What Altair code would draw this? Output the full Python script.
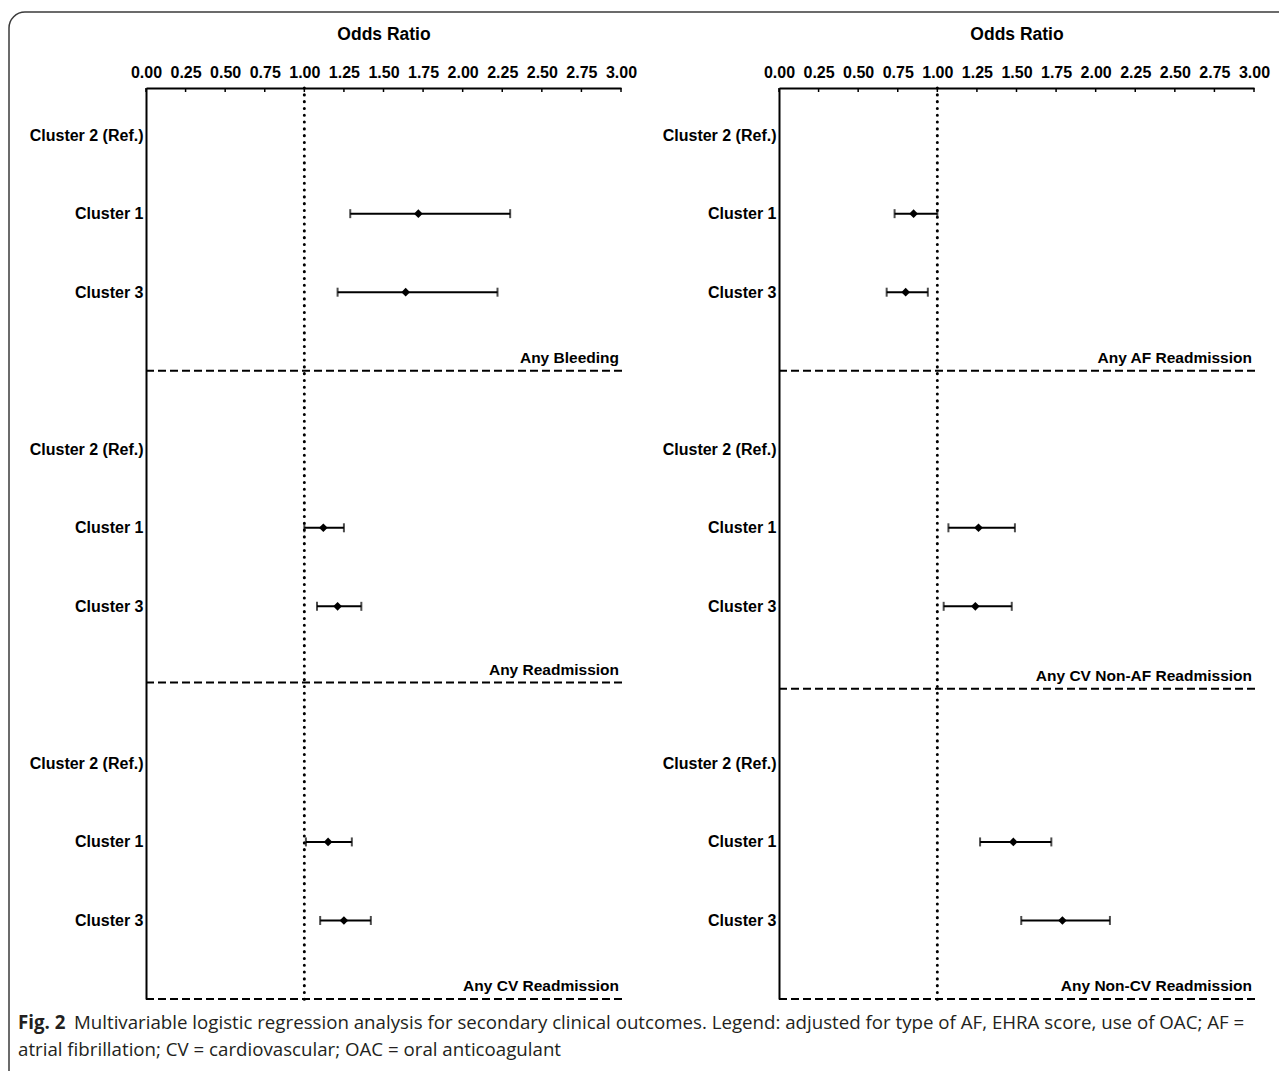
import altair as alt
import pandas as pd
import math

# ---------------- data ----------------
row_labels = ["Cluster 2 (Ref.)", "Cluster 1", "Cluster 3"]
clusters = ["Cluster 1", "Cluster 3"]

outcomes_left = ["Any Bleeding", "Any Readmission", "Any CV Readmission"]
or_left = [[1.72, 1.64], [1.12, 1.21], [1.15, 1.25]]
lo_left = [[1.29, 1.21], [1.00, 1.08], [1.01, 1.10]]
hi_left = [[2.30, 2.22], [1.25, 1.36], [1.30, 1.42]]
sep_left = [3.0, 6.97, 11.0]

outcomes_right = ["Any AF Readmission", "Any CV Non-AF Readmission", "Any Non-CV Readmission"]
or_right = [[0.85, 0.80], [1.26, 1.24], [1.48, 1.79]]
lo_right = [[0.73, 0.68], [1.07, 1.04], [1.27, 1.53]]
hi_right = [[1.00, 0.94], [1.49, 1.47], [1.72, 2.09]]
sep_right = [3.0, 7.05, 11.0]

x_ticks = [0.0, 0.25, 0.5, 0.75, 1.0, 1.25, 1.5, 1.75, 2.0, 2.25, 2.5, 2.75, 3.0]
row_ticks = [0, 1, 2, 4, 5, 6, 8, 9, 10]
ref_value = [1.0]

caption_bold = "Fig. 2"
caption_lines = [
    "Multivariable logistic regression analysis for secondary clinical outcomes. Legend: adjusted for type of AF, EHRA score, use of OAC; AF =",
    "atrial fibrillation; CV = cardiovascular; OAC = oral anticoagulant",
]

# ---------------- layout ----------------
W = 475
H = 911
FONT = "Arial"

label_js = "[" + ",".join("'" + s + "'" for s in row_labels) + "]"

xscale = alt.Scale(domain=[0, 3], nice=False, zero=False)
yscale = alt.Scale(domain=[-0.6, 11], reverse=True, nice=False, zero=False)

xaxis = alt.Axis(
    orient="top", values=x_ticks, format=".2f", grid=False, tickSize=0,
    labelFontSize=16, labelFontWeight="bold", labelColor="black", labelFont=FONT,
    labelPadding=8, labelOverlap=False, labelFlush=False,
    domainColor="black", domainWidth=2,
    title="Odds Ratio", titleFontSize=17.5, titleFontWeight="bold", titleColor="black",
    titleFont=FONT, titlePadding=21,
)
yaxis = alt.Axis(
    values=row_ticks, labelExpr=label_js + "[datum.value % 4]", grid=False, tickSize=0,
    labelFontSize=16, labelFontWeight="bold", labelColor="black", labelFont=FONT,
    labelPadding=3, domainColor="black", domainWidth=2, title=None,
)


def X(field):
    return alt.X(field, scale=xscale, axis=xaxis)


def Y(field):
    return alt.Y(field, scale=yscale, axis=yaxis)


def panel(outcomes, ors, los, his, seps, decorate=False):
    recs = []
    for s, name in enumerate(outcomes):
        for c in range(len(clusters)):
            recs.append({"row": 4 * s + 1 + c, "or": ors[s][c], "lo": los[s][c], "hi": his[s][c]})
    df = pd.DataFrame(recs)
    sep_df = pd.DataFrame({"y": seps, "label": outcomes})

    bars = alt.Chart(df).mark_rule(color="black", strokeWidth=2).encode(
        x=X("lo:Q"), x2="hi:Q", y=Y("row:Q"))
    cap_lo = alt.Chart(df).mark_tick(orient="vertical", size=9, thickness=2, color="black").encode(
        x=X("lo:Q"), y=Y("row:Q"))
    cap_hi = alt.Chart(df).mark_tick(orient="vertical", size=9, thickness=2, color="black").encode(
        x=X("hi:Q"), y=Y("row:Q"))
    pts = alt.Chart(df).mark_point(shape="diamond", filled=True, size=75, color="black", opacity=1).encode(
        x=X("or:Q"), y=Y("row:Q"))

    seps_m = alt.Chart(sep_df).mark_rule(color="black", strokeWidth=2, strokeDash=[8, 4]).encode(
        y=Y("y:Q"), x=alt.value(0), x2=alt.value(W + 3))
    labels = alt.Chart(sep_df).mark_text(
        align="right", baseline="alphabetic", dy=-8, fontSize=15.5, fontWeight="bold",
        font=FONT, color="black").encode(
        y=Y("y:Q"), x=alt.value(W - 2), text="label:N")

    dotted = alt.Chart(pd.DataFrame({"x": ref_value})).mark_rule(
        color="black", strokeWidth=3, strokeDash=[0.1, 6.7], strokeCap="round").encode(
        x=X("x:Q"), y=alt.value(0), y2=alt.value(H + 4))

    ticks = alt.Chart(pd.DataFrame({"t": x_ticks})).mark_rule(color="black", strokeWidth=1.5).encode(
        x=X("t:Q"), y=alt.value(0), y2=alt.value(4))

    layers = [bars, cap_lo, cap_hi, pts, seps_m, labels, dotted, ticks]

    if decorate:
        one = alt.Data(values=[{"k": 1}])
        R = 16
        bx, by = -137, -76
        bcol = "#3a3a3a"
        top = alt.Chart(one).mark_rule(color=bcol, strokeWidth=1.5).encode(
            x=alt.value(bx + R), x2=alt.value(1279 - 146), y=alt.value(by))
        left = alt.Chart(one).mark_rule(color=bcol, strokeWidth=1.5).encode(
            x=alt.value(bx), y=alt.value(by + R), y2=alt.value(1071 - 88))
        corner = alt.Chart(one).mark_arc(color=bcol).encode(
            x=alt.value(bx + R), y=alt.value(by + R),
            theta=alt.value(1.5 * math.pi), theta2=alt.value(2 * math.pi),
            radius=alt.value(R + 0.75), radius2=alt.value(R - 0.75))
        cap1 = alt.Chart(one).mark_text(
            text=caption_bold, align="left", baseline="middle", fontSize=18.7, fontWeight="bold",
            font="Open Sans", color="#231f20").encode(x=alt.value(18 - 146), y=alt.value(1023 - 88))
        cap2 = alt.Chart(one).mark_text(
            text=caption_lines[0], align="left", baseline="middle", fontSize=18.7,
            font="Open Sans", color="#231f20").encode(x=alt.value(74 - 146), y=alt.value(1023 - 88))
        cap3 = alt.Chart(one).mark_text(
            text=caption_lines[1], align="left", baseline="middle", fontSize=18.7,
            font="Open Sans", color="#231f20").encode(x=alt.value(18 - 146), y=alt.value(1050 - 88))
        layers = layers + [top, left, corner, cap1, cap2, cap3]

    return alt.layer(*layers).properties(width=W, height=H)


left_panel = panel(outcomes_left, or_left, lo_left, hi_left, sep_left, decorate=True)
right_panel = panel(outcomes_right, or_right, lo_right, hi_right, sep_right)

chart = alt.hconcat(left_panel, right_panel, spacing=158, bounds="flush").properties(
    padding={"left": 8, "top": 11, "right": 0, "bottom": 0},
    background="white",
).configure_view(stroke=None)

chart.save("out.html", embed_options={"renderer": "svg", "actions": False})
